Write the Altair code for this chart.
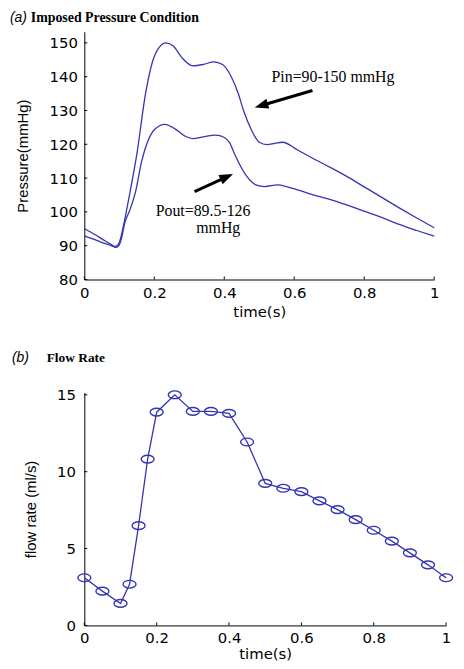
import altair as alt
import pandas as pd

# ---- panel (a): imposed pressure ----
t_in = [0, 0.03, 0.06, 0.075, 0.088, 0.097, 0.104, 0.11, 0.13, 0.15, 0.175, 0.195, 0.215, 0.233,
        0.255, 0.28, 0.31, 0.34, 0.37, 0.395, 0.42, 0.44, 0.455, 0.477, 0.5, 0.522, 0.545, 0.567,
        0.61, 0.65, 0.704, 0.75, 0.8, 0.85, 0.9, 0.95, 1.0]
p_in = [95.1, 93.3, 91.4, 90.5, 89.8, 90.4, 92.3, 95.0, 105.5, 117.0, 135.0, 144.5, 148.8, 150.0,
        149.0, 145.5, 143.2, 143.6, 144.4, 143.6, 140.0, 135.0, 130.0, 124.4, 120.6, 119.9, 120.3,
        120.6, 118.3, 116.0, 113.1, 110.5, 107.4, 104.3, 101.2, 98.2, 95.3]
t_out = [0, 0.03, 0.06, 0.075, 0.09, 0.098, 0.106, 0.115, 0.13, 0.146, 0.164, 0.18, 0.2, 0.23,
         0.26, 0.29, 0.31, 0.34, 0.375, 0.4, 0.415, 0.43, 0.463, 0.49, 0.515, 0.553, 0.58, 0.61,
         0.65, 0.726, 0.8, 0.846, 0.9, 0.95, 1.0]
p_out = [92.9, 91.8, 90.6, 90.1, 89.5, 89.9, 92.0, 96.5, 100.5, 105.8, 115.0, 120.5, 124.3, 125.9,
         124.5, 122.3, 121.7, 122.2, 122.7, 122.0, 120.5, 117.0, 110.7, 108.0, 107.5, 108.0, 107.4,
         106.5, 105.2, 102.9, 100.2, 98.5, 96.3, 94.5, 92.8]

# annotation arrows (data units): tail, shaft end, tip
arrow_names = ["Pin", "Pout"]
arrow_tail_t = [0.652, 0.315]
arrow_tail_p = [135.9, 106.0]
arrow_end_t = [0.5085, 0.404]
arrow_end_p = [131.55, 110.2]
arrow_tip_t = [0.487, 0.425]
arrow_tip_p = [130.9, 111.2]
arrow_angle = [253.7, 65.6]

# annotation labels (data units)
label_text = ["Pin=90-150 mmHg", "Pout=89.5-126", "mmHg"]
label_t = [0.535, 0.204, 0.320]
label_p = [139.9, 100.3, 95.1]

# ---- panel (b): flow rate ----
flow_t = [0, 0.05, 0.1, 0.125, 0.15, 0.175, 0.2, 0.25, 0.3, 0.35, 0.4, 0.45, 0.5, 0.55,
          0.6, 0.65, 0.7, 0.75, 0.8, 0.85, 0.9, 0.95, 1.0]
flow_q = [3.1, 2.23, 1.43, 2.68, 6.49, 10.82, 13.87, 15.0, 13.92, 13.92, 13.79, 11.93, 9.24, 8.92,
          8.70, 8.10, 7.53, 6.88, 6.19, 5.48, 4.72, 3.94, 3.10]

pressure_ticks = [80, 90, 100, 110, 120, 130, 140, 150]
time_ticks = [0, 0.2, 0.4, 0.6, 0.8, 1]
flow_ticks = [0, 5, 10, 15]

BLUE = "#3434b4"
TICKFONT = "DejaVu Sans"
TITLEFONT = "Liberation Sans"
SERIF = "Liberation Serif"

W1, H1 = 353, 250
W2, H2 = 365, 235

press_df = pd.concat([
    pd.DataFrame({"t": t_in, "p": p_in, "series": "Pin"}),
    pd.DataFrame({"t": t_out, "p": p_out, "series": "Pout"}),
])
arrow_df = pd.DataFrame({
    "name": arrow_names, "t0": arrow_tail_t, "p0": arrow_tail_p,
    "t1": arrow_end_t, "p1": arrow_end_p, "tt": arrow_tip_t, "pt": arrow_tip_p,
    "angle": arrow_angle,
})
label_df = pd.DataFrame({"s": label_text, "t": label_t, "p": label_p})

xs1 = alt.Scale(domain=[0, 1], nice=False, zero=False)
ys1 = alt.Scale(domain=[80, 153.3], nice=False, zero=False)

x_axis1 = alt.Axis(values=time_ticks, format="~g", title="time(s)", grid=False, ticks=False,
                   labelPadding=6, titlePadding=4, labelOverlap=False, labelFlush=False)
y_axis1 = alt.Axis(values=pressure_ticks, title="Pressure(mmHg)", grid=False, ticks=False,
                   labelPadding=7, titlePadding=19, labelOverlap=False, labelFlush=False)


def X1(f):
    return alt.X(f, type="quantitative", scale=xs1, axis=x_axis1)


def Y1(f):
    return alt.Y(f, type="quantitative", scale=ys1, axis=y_axis1)


lines = alt.Chart(press_df).mark_line(color=BLUE, strokeWidth=1.3, interpolate="monotone").encode(
    x=X1("t"), y=Y1("p"), detail="series:N",
)

shafts = alt.Chart(arrow_df).mark_rule(color="black", strokeWidth=3).encode(
    x=X1("t0"), y=Y1("p0"), x2="t1:Q", y2="p1:Q"
)
heads = alt.Chart(arrow_df).mark_point(
    shape="M 0 0 L 0.75 2 L -0.75 2 Z", filled=True, color="black", opacity=1, size=190
).encode(x=X1("tt"), y=Y1("pt"), angle=alt.Angle("angle:Q", scale=None))

ann = alt.Chart(label_df).mark_text(
    font=SERIF, fontSize=16, align="left", baseline="middle", color="black"
).encode(x=X1("t"), y=Y1("p"), text="s:N")

yt1 = alt.Chart(pd.DataFrame({"v": pressure_ticks})).mark_rule(color="black").encode(
    y=Y1("v"), x=alt.value(0), x2=alt.value(3))
xt1 = alt.Chart(pd.DataFrame({"v": time_ticks})).mark_rule(color="black").encode(
    x=X1("v"), y=alt.value(H1), y2=alt.value(H1 - 3))

lab_a = alt.Chart(pd.DataFrame({"s": ["(a)"]})).mark_text(
    font=TITLEFONT, fontStyle="italic", fontSize=14, align="left", baseline="middle", color="black"
).encode(x=alt.value(-75), y=alt.value(-14), text="s:N")
tit_a = alt.Chart(pd.DataFrame({"s": ["Imposed Pressure Condition"]})).mark_text(
    font=SERIF, fontWeight="bold", fontSize=14, align="left", baseline="middle", color="black"
).encode(x=alt.value(-54), y=alt.value(-14), text="s:N")

top = alt.layer(lines, shafts, heads, ann, yt1, xt1, lab_a, tit_a).properties(
    width=W1, height=H1)

# ---- bottom ----
flow_df = pd.DataFrame({"t": flow_t, "q": flow_q})
xs2 = alt.Scale(domain=[0, 1], nice=False, zero=False)
ys2 = alt.Scale(domain=[0, 15.15], nice=False, zero=False)
x_axis2 = alt.Axis(values=time_ticks, format="~g", title="time(s)", grid=False, ticks=False,
                   labelPadding=5, titlePadding=1, labelOverlap=False, labelFlush=False)
y_axis2 = alt.Axis(values=flow_ticks, title="flow rate (ml/s)", grid=False, ticks=False,
                   labelPadding=9, titlePadding=18, labelOverlap=False, labelFlush=False)


def X2(f):
    return alt.X(f, type="quantitative", scale=xs2, axis=x_axis2)


def Y2(f):
    return alt.Y(f, type="quantitative", scale=ys2, axis=y_axis2)


fline = alt.Chart(flow_df).mark_line(color=BLUE, strokeWidth=1.3).encode(x=X2("t"), y=Y2("q"))
fpts = alt.Chart(flow_df).mark_point(
    shape="M -1 0 A 1 0.6 0 1 1 1 0 A 1 0.6 0 1 1 -1 0 Z",
    filled=False, color=BLUE, strokeWidth=1.4, size=170, opacity=1, clip=False
).encode(x=X2("t"), y=Y2("q"))

yt2 = alt.Chart(pd.DataFrame({"v": flow_ticks})).mark_rule(color="black").encode(
    y=Y2("v"), x=alt.value(0), x2=alt.value(3))
xt2 = alt.Chart(pd.DataFrame({"v": time_ticks})).mark_rule(color="black").encode(
    x=X2("v"), y=alt.value(H2), y2=alt.value(H2 - 3))

lab_b = alt.Chart(pd.DataFrame({"s": ["(b)"]})).mark_text(
    font=TITLEFONT, fontStyle="italic", fontSize=14, align="left", baseline="middle", color="black"
).encode(x=alt.value(-73), y=alt.value(-35), text="s:N")
tit_b = alt.Chart(pd.DataFrame({"s": ["Flow Rate"]})).mark_text(
    font=SERIF, fontWeight="bold", fontSize=13.5, align="left", baseline="middle", color="black"
).encode(x=alt.value(-38), y=alt.value(-35), text="s:N")

bottom = alt.layer(fline, fpts, yt2, xt2, lab_b, tit_b).properties(width=W2, height=H2)

chart = alt.vconcat(top, bottom, spacing=32).properties(
    padding={"left": 2, "top": 0, "right": 0, "bottom": 0}
).configure_view(stroke=None).configure_axis(
    domainColor="black", domainWidth=1, labelFont=TICKFONT, labelFontSize=15, labelColor="black",
    titleFont=TITLEFONT, titleFontSize=15, titleFontWeight="normal", titleColor="black",
).configure_axisX(titleFont=TICKFONT, titleFontSize=15)

chart.save("out.html", embed_options={"renderer": "svg", "actions": False})
